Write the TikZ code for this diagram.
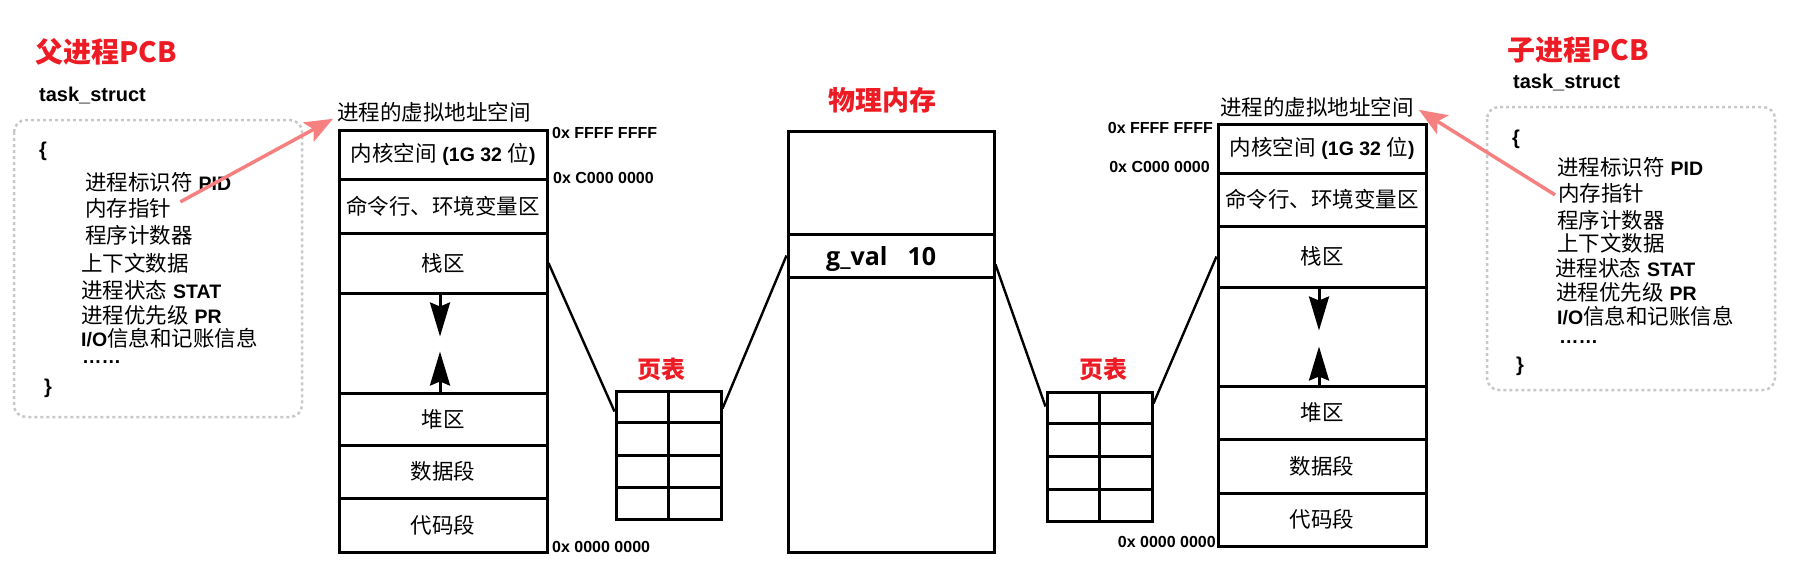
\documentclass[tikz,border=0pt]{standalone}
\usepackage{fontspec}
\setmainfont{Liberation Sans}
\newfontfamily\cjk{Noto Sans CJK SC}
\newfontfamily\gvfont{Open Sans}
\usetikzlibrary{arrows.meta,calc}
\definecolor{titlered}{RGB}{237,28,36}
\definecolor{pinkarrow}{RGB}{246,128,128}
\definecolor{dotgray}{RGB}{200,200,200}
\newcommand\zh[1]{{\cjk #1}}
\newcommand\lat[1]{{\fontsize{19.5}{21}\selectfont\bfseries #1}}
\tikzset{
  seg/.style={draw, line width=3pt, minimum width=208pt, inner sep=0pt,
    font=\fontsize{21.5}{24}\selectfont},
  pmseg/.style={draw, line width=3pt, minimum width=206pt, inner sep=0pt},
  ptab/.style={draw, line width=3pt, minimum width=105pt, minimum height=128pt, inner sep=0pt},
  ptline/.style={line width=3pt},
  conn/.style={line width=2.4pt},
  growarrow/.style={line width=3pt, -{Stealth[length=34pt,width=20pt,inset=4pt]}},
  pcb/.style={anchor=base west, inner sep=0pt, font=\fontsize{21.5}{24}\selectfont},
  addr/.style={inner sep=0pt, font=\fontsize{16}{18}\selectfont\bfseries},
  tstruct/.style={anchor=west, inner sep=0pt, font=\fontsize{20}{22}\selectfont\bfseries},
  redtitle/.style={inner sep=0pt, text=titlered, font=\cjk\bfseries},
  dotbox/.style={draw=dotgray, line width=2.5pt, dash pattern=on 3pt off 3pt, rounded corners=12pt},
  ptrarrow/.style={draw=pinkarrow, line width=3.5pt, -{Stealth[length=28pt,width=22pt,inset=6pt]}},
}
\begin{document}
\begin{tikzpicture}[x=1pt,y=-1pt]
\useasboundingbox (0,0) rectangle (1808,581);

% ---------- left PCB ----------
\node[redtitle, anchor=west, font=\cjk\bfseries\fontsize{28}{30}\selectfont] (ltitle) at (35,52) {父进程PCB};
\node[tstruct] (lts) at (39,95) {task\_struct};
\draw[dotbox] (14,120) rectangle (302,417);
\node[pcb, font=\fontsize{20}{22}\selectfont\bfseries] (lob) at (39,156) {\{};
\node[pcb] (l1) at (85,190) {\zh{进程标识符} \lat{PID}};
\node[pcb] (lptr) at (85,216) {\zh{内存指针}};
\node[pcb] (l3) at (85,243) {\zh{程序计数器}};
\node[pcb] (l4) at (81,271) {\zh{上下文数据}};
\node[pcb] (l5) at (81,298) {\zh{进程状态} \lat{STAT}};
\node[pcb] (l6) at (81,323) {\zh{进程优先级} \lat{PR}};
\node[pcb] (l7) at (81,346) {\lat{I/O}\zh{信息和记账信息}};
\node[pcb] (l8) at (82,363) {\lat{……}};
\node[pcb, font=\fontsize{20}{22}\selectfont\bfseries] (lcb) at (44,393) {\}};

% ---------- right PCB ----------
\node[redtitle, anchor=west, font=\cjk\bfseries\fontsize{28}{30}\selectfont] (rtitle) at (1507,50) {子进程PCB};
\node[tstruct] (rts) at (1513,82) {task\_struct};
\draw[dotbox] (1487,107) rectangle (1775,390);
\node[pcb, font=\fontsize{20}{22}\selectfont\bfseries] (rob) at (1512,144) {\{};
\node[pcb] (r1) at (1557,175) {\zh{进程标识符} \lat{PID}};
\node[pcb] (rptr) at (1558,201) {\zh{内存指针}};
\node[pcb] (r3) at (1557,228) {\zh{程序计数器}};
\node[pcb] (r4) at (1557,251) {\zh{上下文数据}};
\node[pcb] (r5) at (1555,276) {\zh{进程状态} \lat{STAT}};
\node[pcb] (r6) at (1556,300) {\zh{进程优先级} \lat{PR}};
\node[pcb] (r7) at (1557,324) {\lat{I/O}\zh{信息和记账信息}};
\node[pcb] (r8) at (1559,343) {\lat{……}};
\node[pcb, font=\fontsize{20}{22}\selectfont\bfseries] (rcb) at (1516,371) {\}};

% ---------- left virtual address space ----------
\node[pcb] (llab) at (337,120) {\zh{进程的虚拟地址空间}};
\node[seg, minimum height=49pt] (lk) at (443,154.5) {\zh{内核空间} \lat{(1G 32 }\zh{位}\lat{)}};
\node[seg, minimum height=54pt] (lc) at (443,206) {\zh{命令行、环境变量区}};
\node[seg, minimum height=60pt] (ls) at (443,263) {\zh{栈区}};
\node[seg, minimum height=100pt] (lg) at (443,343) {};
\node[seg, minimum height=52pt] (lh) at (443,419) {\zh{堆区}};
\node[seg, minimum height=53pt] (ld) at (443,471.5) {\zh{数据段}};
\node[seg, minimum height=54pt] (lt) at (443,525) {\zh{代码段}};
\draw[growarrow] ([xshift=-3pt]lg.north) -- ++(0,45);
\draw[growarrow] ([xshift=-3pt]lg.south) -- ++(0,-43);
\node[addr, anchor=west] (la1) at (552,133) {0x FFFF FFFF};
\node[addr, anchor=west] (la2) at (553,178) {0x C000 0000};
\node[addr, anchor=west] (la3) at (552,547) {0x 0000 0000};

% ---------- left page table ----------
\node[redtitle, font=\cjk\bfseries\fontsize{24}{26}\selectfont] (lptl) at (661,369) {页表};
\node[ptab] (lpt) at (668.5,455) {};
\draw[ptline] (lpt.north) -- (lpt.south);
\foreach \f in {0.25,0.5,0.75}
  \draw[ptline] ($(lpt.north west)!\f!(lpt.south west)$) -- ($(lpt.north east)!\f!(lpt.south east)$);

% ---------- physical memory ----------
\node[redtitle, font=\cjk\bfseries\fontsize{27}{29}\selectfont] (pmt) at (882,100) {物理内存};
\node[pmseg, minimum height=103pt] (pa) at (891,182.5) {};
\node[pmseg, minimum height=43pt] (pv) at (891,255.5) {};
\node[pmseg, minimum height=275pt] (pb) at (891,414.5) {};
\node[anchor=base west, inner sep=0pt, font=\gvfont\bfseries\fontsize{25}{27}\selectfont] (gv) at (826,265) {g\_val\hspace{20pt}10};

% ---------- right page table ----------
\node[redtitle, font=\cjk\bfseries\fontsize{24}{26}\selectfont] (rptl) at (1103,369) {页表};
\node[ptab, minimum height=129pt] (rpt) at (1099.5,456.5) {};
\draw[ptline] (rpt.north) -- (rpt.south);
\foreach \f in {0.25,0.5,0.75}
  \draw[ptline] ($(rpt.north west)!\f!(rpt.south west)$) -- ($(rpt.north east)!\f!(rpt.south east)$);

% ---------- right virtual address space ----------
\node[pcb] (rlab) at (1220,115) {\zh{进程的虚拟地址空间}};
\node[seg, minimum height=49pt] (rk) at (1322,148.5) {\zh{内核空间} \lat{(1G 32 }\zh{位}\lat{)}};
\node[seg, minimum height=53pt] (rc) at (1322,199.5) {\zh{命令行、环境变量区}};
\node[seg, minimum height=61pt] (rs) at (1322,256.5) {\zh{栈区}};
\node[seg, minimum height=99pt] (rg) at (1322,336.5) {};
\node[seg, minimum height=53pt] (rh) at (1322,412.5) {\zh{堆区}};
\node[seg, minimum height=54pt] (rd) at (1322,466) {\zh{数据段}};
\node[seg, minimum height=53pt] (rt) at (1322,519.5) {\zh{代码段}};
\draw[growarrow] ([xshift=-3pt]rg.north) -- ++(0,45);
\draw[growarrow] ([xshift=-3pt]rg.south) -- ++(0,-41);
\node[addr, anchor=east] (ra1) at (1213,128) {0x FFFF FFFF};
\node[addr, anchor=east] (ra2) at (1210,167) {0x C000 0000};
\node[addr, anchor=east] (ra3) at (1216,542) {0x 0000 0000};

% ---------- connectors ----------
\draw[conn] (ls.east) -- ($(lpt.north west)+(0,22)$);
\draw[conn] ($(lpt.north east)+(0,19)$) -- (pv.west);
\draw[conn] ($(pv.east)+(0,9)$) -- ($(rpt.north west)+(0,16)$);
\draw[conn] ($(rpt.north east)+(0,13)$) -- (rs.west);

% ---------- pointer arrows ----------
\draw[ptrarrow] ($(lptr.east)+(9,-6)$) -- ($(llab.west)+(-4,7)$);
\draw[ptrarrow] ($(rptr.west)+(-3,2)$) -- ($(rlab.east)+(5,3)$);
\end{tikzpicture}
\end{document}
